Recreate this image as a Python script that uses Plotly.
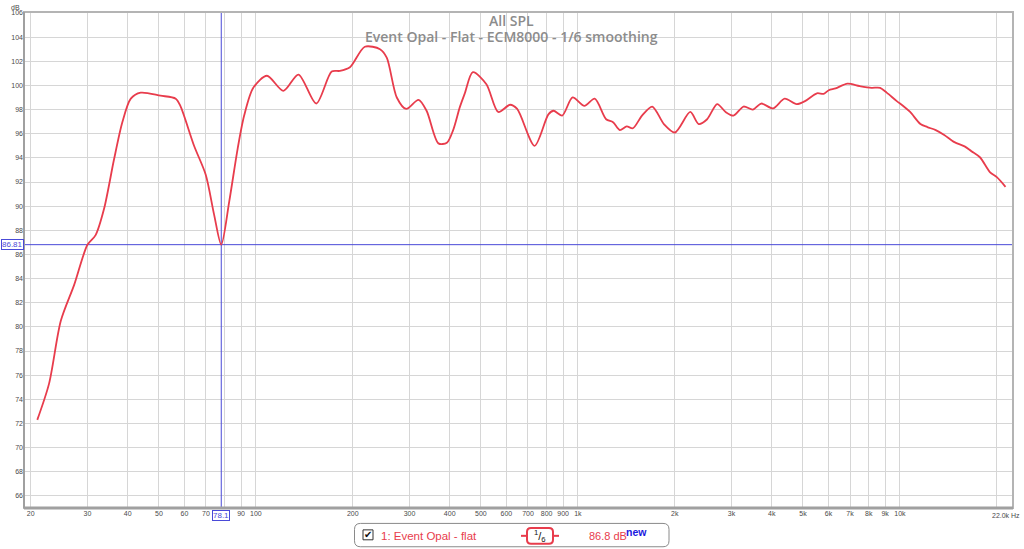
import math
import plotly.graph_objects as go

# ---------------- data ----------------
freq_hz = [20.96, 22.8, 24.8, 27.3, 30.0, 31.8, 33.8, 36.3, 38.5, 40.9, 43.9, 50.6, 56.4, 58.3,
           64.3, 69.9, 74.2, 78.1, 82.7, 87.8, 92.0, 98.2, 108.3, 121.8, 135.6, 154, 172, 182.4,
           196, 218, 243, 255, 274, 293, 320, 339, 369, 392, 410, 430, 445, 472, 520, 566, 616,
           648, 734, 810, 840, 894, 963, 1048, 1128, 1224, 1286, 1350, 1418, 1482, 1582, 1702,
           1850, 2002, 2234, 2372, 2520, 2708, 2876, 3042, 3270, 3494, 3710, 4036, 4388, 4778,
           5074, 5526, 5800, 6012, 6312, 6872, 7490, 8160, 8680, 9100, 9780, 10240, 10760, 11580,
           12170, 12920, 13730, 14770, 15880, 16680, 17720, 19060, 20000, 21280]
spl_db = [72.3, 75.3, 80.5, 83.5, 86.8, 87.6, 89.8, 93.9, 96.95, 98.9, 99.4, 99.15, 98.9, 98.3,
          95.0, 92.6, 89.3, 86.81, 90.4, 94.75, 97.5, 99.8, 100.8, 99.55, 100.9, 98.5, 101.15, 101.2,
          101.5, 103.2, 103.0, 102.3, 99.0, 98.05, 98.8, 97.9, 95.2, 95.25, 96.3, 98.2, 99.3, 101.1, 100.1, 97.8, 98.4,
          98.05, 95.0, 97.6, 97.9, 97.5, 99.0, 98.3, 98.9, 97.2, 96.95, 96.3, 96.6, 96.45, 97.5, 98.25,
          96.8, 96.1, 97.8, 96.8, 97.2, 98.45, 97.8, 97.5, 98.25, 98.0, 98.5, 98.1, 98.9, 98.45,
          98.7, 99.35, 99.3, 99.6, 99.75, 100.15, 99.95, 99.8, 99.8, 99.4, 98.7, 98.3, 97.8, 96.8,
          96.55, 96.3, 95.9, 95.3, 94.95, 94.55, 94.05, 92.8, 92.4, 91.6]

x_tick_vals = [20, 30, 40, 50, 60, 70, 80, 90, 100, 200, 300, 400, 500, 600, 700, 800, 900,
               1000, 2000, 3000, 4000, 5000, 6000, 7000, 8000, 9000, 10000, 20000]
x_tick_text = ["20", "30", "40", "50", "60", "70", " ", "90", "100", "200", "300", "400", "500",
               "600", "700", "800", "900", "1k", "2k", "3k", "4k", "5k", "6k", "7k", "8k", "9k",
               "10k", " "]
y_tick_vals = [66, 68, 70, 72, 74, 76, 78, 80, 82, 84, 86, 88, 90, 92, 94, 96, 98, 100, 102, 104, 106]
x_end_label = "22.0k Hz"
y_unit_label = "dB"

cursor_freq = 78.1
cursor_db = 86.81
cursor_freq_label = "78.1"
cursor_db_label = "86.81"

title_main = "All SPL"
title_sub = "Event Opal - Flat - ECM8000 - 1/6 smoothing"
legend_label = "1: Event Opal - flat"
legend_level = "86.8 dB"
legend_new = "new"

x_min, x_max = 19.06, 22450
y_min, y_max = 65.0, 106.08

# ---------------- layout helpers (pixel -> paper) ----------------
W, H = 1024, 549
ML, MR, MT, MB = 24, 11, 9, 41
PW = W - ML - MR
PH = H - MT - MB


def px(x):
    return (x - ML) / PW


def py(y):
    return (H - MB - y) / PH


CURVE = "rgb(232,60,76)"
BLUE = "#4a4ad8"
GRID = "#d6d6d6"
TICKC = "#4a4a4a"

fig = go.Figure()

# cursor lines
fig.add_trace(go.Scatter(x=[cursor_freq, cursor_freq], y=[y_min, y_max], mode="lines",
                         line=dict(color=BLUE, width=1), hoverinfo="skip", showlegend=False))
fig.add_trace(go.Scatter(x=[x_min, x_max], y=[cursor_db, cursor_db], mode="lines",
                         line=dict(color=BLUE, width=1), hoverinfo="skip", showlegend=False))

# response curve
fig.add_trace(go.Scatter(x=freq_hz, y=spl_db, mode="lines",
                         line=dict(color=CURVE, width=1.8, shape="spline", smoothing=0.8),
                         showlegend=False))

fig.update_layout(
    width=W, height=H, autosize=False,
    margin=dict(l=ML, r=MR, t=MT, b=MB),
    paper_bgcolor="white", plot_bgcolor="white",
    font=dict(family="Liberation Sans", size=7, color=TICKC),
    showlegend=False,
    xaxis=dict(type="log", range=[math.log10(x_min), math.log10(x_max)],
               tickvals=x_tick_vals, ticktext=x_tick_text, ticks="",
               showgrid=True, gridcolor=GRID, gridwidth=1, zeroline=False, showline=False,
               tickfont=dict(size=7, color=TICKC)),
    yaxis=dict(range=[y_min, y_max], tickvals=y_tick_vals, ticks="",
               showgrid=True, gridcolor=GRID, gridwidth=1, zeroline=False, showline=False,
               tickfont=dict(size=7, color=TICKC)),
)

shapes = []
# plot frame
shapes.append(dict(type="rect", xref="paper", yref="paper", x0=0, x1=1, y0=0, y1=1,
                   line=dict(color="#b4b4b4", width=2), layer="above"))
shapes.append(dict(type="line", xref="paper", yref="paper", x0=0, x1=1, y0=0, y1=0,
                   line=dict(color="#a0a0a0", width=3), layer="above"))
shapes.append(dict(type="line", xref="paper", yref="paper", x0=0, x1=0, y0=0, y1=1,
                   line=dict(color="#a0a0a0", width=2), layer="above"))


def rounded_rect(x0, y0, x1, y1, r):
    rx, ry = r / PW, r / PH
    X0, X1 = px(x0), px(x1)
    Y0, Y1 = py(y0), py(y1)  # Y0 top (larger), Y1 bottom
    return (f"M {X0+rx},{Y0} L {X1-rx},{Y0} Q {X1},{Y0} {X1},{Y0-ry} "
            f"L {X1},{Y1+ry} Q {X1},{Y1} {X1-rx},{Y1} L {X0+rx},{Y1} "
            f"Q {X0},{Y1} {X0},{Y1+ry} L {X0},{Y0-ry} Q {X0},{Y0} {X0+rx},{Y0} Z")


# legend box
shapes.append(dict(type="path", xref="paper", yref="paper", path=rounded_rect(354.5, 523.5, 669, 547, 6),
                   line=dict(color="#8a8a8a", width=1), fillcolor="white"))
# checkbox
shapes.append(dict(type="rect", xref="paper", yref="paper", x0=px(363), x1=px(373), y0=py(540), y1=py(530),
                   line=dict(color="#333333", width=1), fillcolor="white"))
# smoothing box and its side ticks
shapes.append(dict(type="path", xref="paper", yref="paper", path=rounded_rect(527, 528, 553, 544, 4),
                   line=dict(color=CURVE, width=2), fillcolor="white"))
shapes.append(dict(type="line", xref="paper", yref="paper", x0=px(521), x1=px(527), y0=py(536), y1=py(536),
                   line=dict(color=CURVE, width=2)))
shapes.append(dict(type="line", xref="paper", yref="paper", x0=px(553), x1=px(559), y0=py(536), y1=py(536),
                   line=dict(color=CURVE, width=2)))
fig.update_layout(shapes=shapes)

ann = []
TITLE_FONT = dict(family="Open Sans", size=14, color="#8c8c8c", weight=600)
ann.append(dict(text=title_main, xref="paper", yref="paper", x=px(511.5), y=py(17.5),
                showarrow=False, font=TITLE_FONT, xanchor="center", yanchor="middle"))
ann.append(dict(text=title_sub, xref="paper", yref="paper", x=px(511.5), y=py(33.5),
                showarrow=False, font=TITLE_FONT, xanchor="center", yanchor="middle"))
ann.append(dict(text=y_unit_label, xref="paper", yref="paper", x=px(22), y=py(4),
                showarrow=False, font=dict(size=7, color=TICKC), xanchor="right", yanchor="middle"))
ann.append(dict(text=x_end_label, xref="paper", yref="paper", x=px(1022), y=py(516),
                showarrow=False, font=dict(size=7, color=TICKC), xanchor="right", yanchor="middle"))
# cursor readouts
ann.append(dict(text=cursor_db_label, xref="paper", yref="y", x=px(12.5), y=cursor_db,
                showarrow=False, font=dict(size=8, color=BLUE), xanchor="center", yanchor="middle",
                bordercolor=BLUE, borderwidth=1, borderpad=0, bgcolor="white"))
ann.append(dict(text=cursor_freq_label, xref="x", yref="paper", x=math.log10(cursor_freq), y=py(516),
                showarrow=False, font=dict(size=8, color=BLUE), xanchor="center", yanchor="middle",
                bordercolor=BLUE, borderwidth=1, borderpad=0, bgcolor="white"))
# legend contents
ann.append(dict(text="✔", xref="paper", yref="paper", x=px(368), y=py(535),
                showarrow=False, font=dict(family="DejaVu Sans", size=10, color="#111111"),
                xanchor="center", yanchor="middle"))
ann.append(dict(text=legend_label, xref="paper", yref="paper", x=px(378.5), y=py(536),
                showarrow=False, font=dict(family="Liberation Sans", size=11.5, color=CURVE),
                xanchor="left", yanchor="middle"))
ann.append(dict(text="<sup>1</sup>/<sub>6</sub>", xref="paper", yref="paper", x=px(540), y=py(536),
                showarrow=False, font=dict(family="Liberation Sans", size=11, color="#111111"),
                xanchor="center", yanchor="middle"))
ann.append(dict(text=legend_level, xref="paper", yref="paper", x=px(586.5), y=py(536),
                showarrow=False, font=dict(family="Liberation Sans", size=11, color=CURVE),
                xanchor="left", yanchor="middle"))
ann.append(dict(text=legend_new, xref="paper", yref="paper", x=px(624), y=py(532),
                showarrow=False, font=dict(family="Liberation Sans", size=10.5, color="#1a1ae0", weight="bold"),
                xanchor="left", yanchor="middle"))
fig.update_layout(annotations=ann)

fig.write_html("out.html", config={"displayModeBar": False},
               post_script="document.body.style.margin='0';")
